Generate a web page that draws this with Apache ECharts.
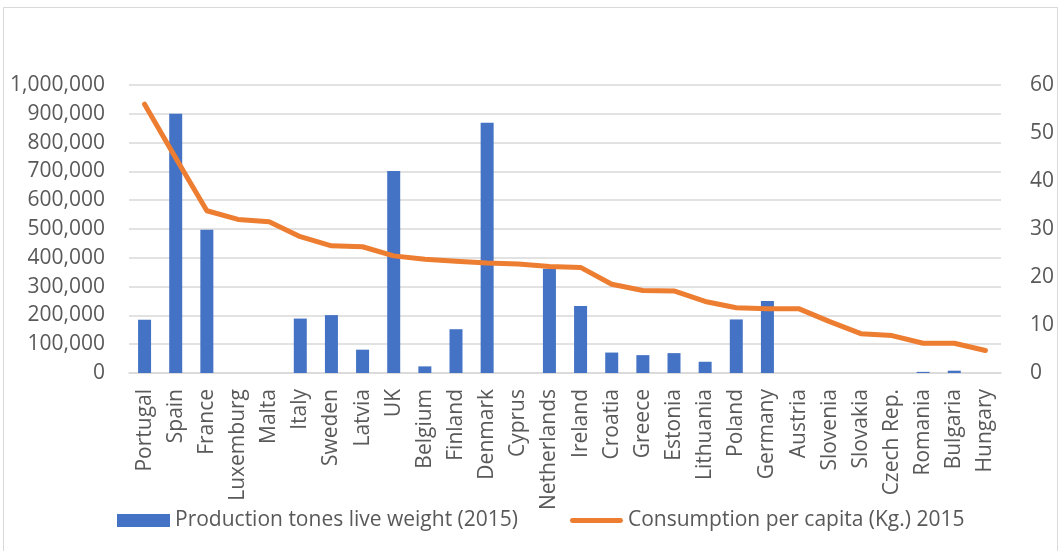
<!DOCTYPE html>
<html>
<head>
<meta charset="utf-8">
<script src="https://cdn.jsdelivr.net/npm/echarts@6/dist/echarts.min.js"></script>
<style>
html,body{margin:0;padding:0;background:#fff;}
#c{width:1061px;height:551px;}
</style>
</head>
<body>
<div id="c"></div>
<script>
var categories = ['Portugal','Spain','France','Luxemburg','Malta','Italy','Sweden','Latvia','UK','Belgium','Finland','Denmark','Cyprus','Netherlands','Ireland','Croatia','Greece','Estonia','Lithuania','Poland','Germany','Austria','Slovenia','Slovakia','Czech Rep.','Romania','Bulgaria','Hungary'];
var production = [185000,900000,497000,0,0,189000,201000,81000,701000,23000,152000,869000,0,362000,233000,71000,62000,69000,39000,186000,250000,0,0,0,0,4000,8000,0];
var consumption = [56.0,44.8,33.8,32.0,31.5,28.4,26.5,26.3,24.4,23.7,23.3,22.9,22.7,22.2,22.0,18.5,17.2,17.1,14.9,13.6,13.4,13.4,10.7,8.2,7.8,6.2,6.2,4.7];
var seriesNames = ['Production tones live weight (2015)','Consumption per capita (Kg.) 2015'];

var font = 'Open Sans';
var txt = '#595959';
var chart = echarts.init(document.getElementById('c'));
chart.setOption({
  animation:false,
  backgroundColor:'#fff',
  graphic:[{type:'rect',shape:{x:3.5,y:7.5,width:1054,height:560},style:{fill:'none',stroke:'#d9d9d9',lineWidth:1},silent:true}],
  grid:{left:129,right:60,top:85,bottom:178,containLabel:false},
  legend:{
    data:[{name:seriesNames[0],icon:'rect'},
          {name:seriesNames[1],icon:'path://M2.5,0 L52.5,0 A2.5,2.5 0 0 1 52.5,5 L2.5,5 A2.5,2.5 0 0 1 2.5,0 Z'}],
    left:112, top:505,
    itemWidth:53, itemHeight:13, itemGap:52,
    textStyle:{fontFamily:font,fontSize:21,color:txt}
  },
  xAxis:{
    type:'category', data:categories,
    axisLine:{lineStyle:{color:'#d9d9d9',width:1.5}},
    axisTick:{show:false},
    axisLabel:{rotate:90,interval:0,fontFamily:font,fontSize:21,color:txt,margin:16}
  },
  yAxis:[{
    type:'value', min:0, max:1000000, interval:100000,
    axisLine:{show:false}, axisTick:{show:false},
    splitLine:{lineStyle:{color:'#d9d9d9',width:1.5}},
    axisLabel:{fontFamily:font,fontSize:21,color:txt,margin:24,
      formatter:function(v){return v.toString().replace(/\B(?=(\d{3})+(?!\d))/g, ',');}}
  },{
    type:'value', min:0, max:60, interval:10, position:'right',
    axisLine:{show:false}, axisTick:{show:false}, splitLine:{show:false},
    axisLabel:{fontFamily:font,fontSize:21,color:txt,margin:29}
  }],
  series:[{
    name:seriesNames[0], type:'bar', data:production, barWidth:13,
    itemStyle:{color:'#4472C4'}, yAxisIndex:0
  },{
    name:seriesNames[1], type:'line', data:consumption, yAxisIndex:1,
    symbol:'none', lineStyle:{color:'#ED7D31',width:5,cap:'round',join:'round'},
    itemStyle:{color:'#ED7D31'}, z:5
  }]
});
</script>
</body>
</html>
